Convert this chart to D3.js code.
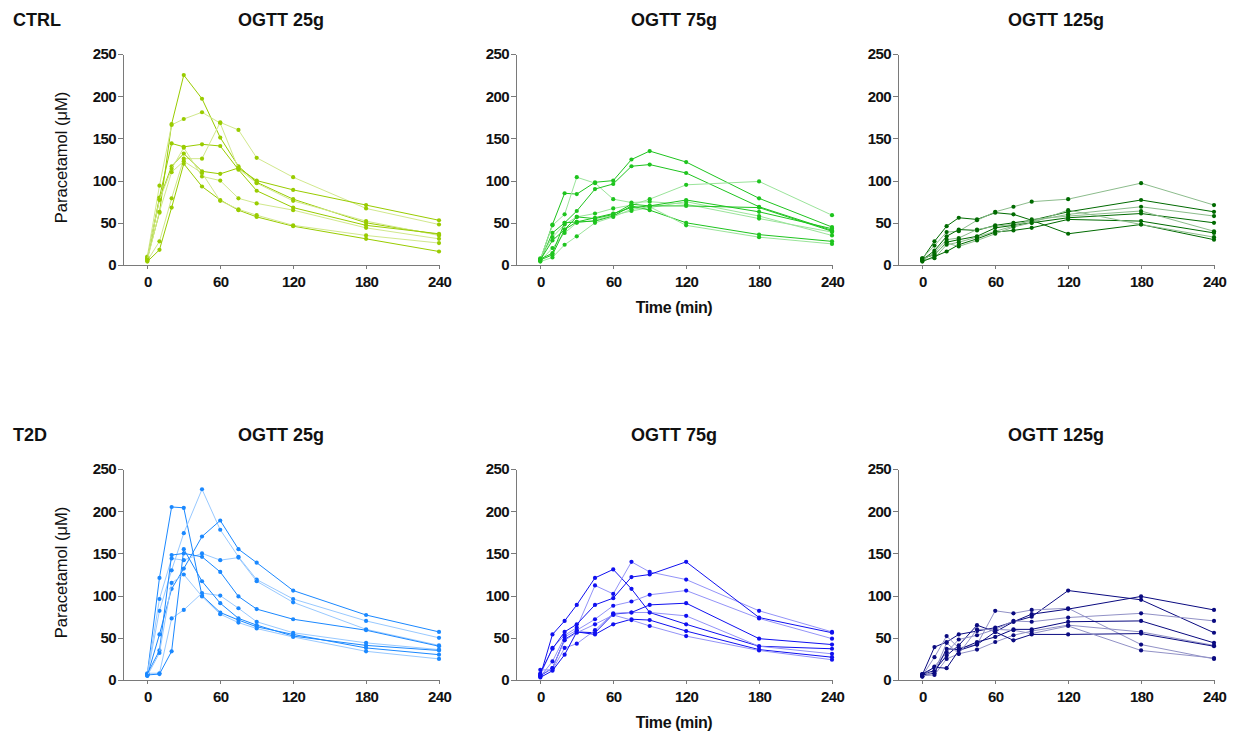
<!DOCTYPE html>
<html>
<head>
<meta charset="utf-8">
<script src="https://cdn.jsdelivr.net/npm/d3@7/dist/d3.min.js"></script>
<style>
    body { margin: 0; background: #fff; }
    text { font-family: 'Liberation Sans', Arial, sans-serif; fill: #111; }
    .tick text { font-size: 15px; font-weight: bold; letter-spacing: -0.6px; }
    .axis path.domain, .axis .tick line { stroke: #7a7a7a; stroke-width: 1; shape-rendering: crispEdges; }
    .panel-title { font-size: 18px; font-weight: bold; }
    .group-label { font-size: 18px; font-weight: bold; }
    .y-label { font-size: 16.5px; }
    .x-label { font-size: 16px; font-weight: bold; letter-spacing: -0.4px; }
</style>
</head>
<body>
<div id="ogtt-plot"></div>
<script>
// sampling times (min)
const times = [0, 10, 20, 30, 45, 60, 75, 90, 120, 180, 240];
const groups = ['CTRL', 'T2D'];
const doses = ['OGTT 25g', 'OGTT 75g', 'OGTT 125g'];
const xTicks = [0, 60, 120, 180, 240];
const yTicks = [0, 50, 100, 150, 200, 250];

// paracetamol (µM), one row per subject, values at `times`
const ctrl25 = [
    [8, 62, 167, 225, 197, 151, 117, 98, 78, 50, 36],
    [10, 94, 166, 173, 181, 168, 114, 97, 76, 52, 35],
    [6, 80, 144, 140, 143, 141, 113, 88, 68, 47, 37],
    [5, 28, 79, 126, 126, 169, 160, 127, 104, 67, 48],
    [7, 78, 117, 132, 111, 108, 115, 100, 89, 71, 53],
    [9, 77, 114, 139, 105, 100, 79, 73, 65, 44, 31],
    [4, 18, 68, 120, 93, 77, 65, 57, 46, 31, 16],
    [6, 63, 110, 123, 109, 76, 66, 59, 47, 35, 26]
];
const ctrl75 = [
    [6, 48, 85, 84, 98, 100, 125, 135, 122, 79, 45],
    [7, 47, 60, 104, 97, 78, 74, 75, 72, 55, 39],
    [5, 38, 50, 64, 90, 96, 117, 119, 109, 69, 41],
    [8, 33, 48, 57, 61, 67, 71, 78, 95, 99, 59],
    [6, 29, 42, 51, 56, 61, 68, 70, 77, 63, 43],
    [5, 20, 38, 50, 53, 59, 64, 68, 75, 58, 35],
    [7, 14, 50, 51, 52, 58, 70, 65, 50, 36, 28],
    [4, 9, 24, 34, 50, 57, 66, 69, 47, 33, 25],
    [6, 12, 42, 57, 55, 60, 72, 70, 70, 68, 40]
];
const ctrl125 = [
    [7, 28, 46, 56, 54, 62, 60, 53, 37, 48, 30],
    [8, 23, 39, 40, 53, 63, 69, 75, 78, 97, 71],
    [6, 17, 34, 42, 41, 47, 50, 53, 63, 77, 63],
    [5, 15, 30, 32, 42, 46, 48, 52, 60, 69, 58],
    [8, 12, 27, 30, 34, 44, 47, 50, 56, 61, 50],
    [6, 8, 24, 27, 33, 40, 46, 54, 58, 64, 40],
    [4, 10, 16, 24, 31, 39, 41, 44, 54, 52, 38],
    [7, 13, 26, 22, 29, 37, 45, 50, 65, 48, 33]
];
const t2d25 = [
    [7, 121, 205, 204, 100, 80, 71, 63, 54, 38, 30],
    [6, 82, 130, 174, 226, 178, 146, 119, 96, 70, 50],
    [5, 54, 108, 132, 170, 189, 155, 139, 106, 77, 57],
    [6, 96, 144, 142, 150, 142, 145, 117, 92, 60, 41],
    [7, 35, 148, 150, 146, 128, 99, 84, 72, 59, 40],
    [8, 8, 73, 83, 103, 100, 85, 69, 56, 44, 36],
    [6, 7, 34, 155, 117, 91, 73, 65, 52, 41, 35],
    [5, 32, 115, 125, 99, 78, 68, 61, 51, 34, 25]
];
const t2d75 = [
    [5, 54, 70, 89, 121, 131, 108, 80, 66, 40, 37],
    [6, 38, 53, 62, 112, 102, 140, 128, 119, 82, 57],
    [8, 37, 57, 66, 89, 97, 122, 125, 140, 74, 56],
    [4, 22, 51, 59, 72, 88, 93, 101, 106, 73, 49],
    [5, 14, 48, 57, 56, 78, 80, 89, 91, 49, 42],
    [12, 12, 38, 43, 59, 79, 80, 80, 76, 40, 31],
    [3, 11, 30, 57, 54, 66, 72, 71, 58, 36, 27],
    [6, 14, 47, 56, 66, 77, 71, 64, 52, 35, 24]
];
const t2d125 = [
    [6, 39, 45, 54, 58, 62, 69, 75, 106, 95, 56],
    [5, 27, 52, 38, 42, 82, 79, 83, 85, 42, 25],
    [7, 11, 29, 41, 65, 57, 69, 78, 84, 99, 83],
    [4, 16, 33, 48, 53, 60, 70, 69, 74, 79, 70],
    [6, 8, 37, 36, 45, 51, 60, 60, 69, 70, 44],
    [5, 6, 25, 31, 36, 45, 53, 58, 65, 57, 41],
    [7, 15, 14, 35, 42, 57, 47, 54, 54, 55, 40],
    [4, 10, 44, 31, 60, 60, 59, 55, 64, 35, 26]
];

const panelData = [[ctrl25, ctrl75, ctrl125], [t2d25, t2d75, t2d125]];
const panelColors = [['#99cc00', '#1ec41e', '#006a00'], ['#1a88ff', '#1010f0', '#0a0a80']];

function drawChart() {
    let svgWidth = 1234,
        svgHeight = 735,
        colLeft = [123, 516, 898],
        rowTop = [54, 469],
        plotWidth = 316,
        plotHeight = 211,
        svg = d3.select('#ogtt-plot').append('svg')
                .attr('width', svgWidth)
                .attr('height', svgHeight);

    let xScale = d3.scaleLinear().domain([-20, 240]).range([0, plotWidth]),
        yScale = d3.scaleLinear().domain([0, 250]).range([plotHeight, 0]);

    groups.forEach((group, r) => {
        svg.append('text')
           .attr('class', 'group-label')
           .attr('x', 13)
           .attr('y', rowTop[r] - 28)
           .text(group);

        doses.forEach((dose, c) => {
            let plot = svg.append('g')
                          .attr('transform', `translate(${colLeft[c]}, ${rowTop[r]})`);
            setUpPanel(plot, dose, r, c);
            drawSubjects(plot, panelData[r][c], panelColors[r][c]);
        });
    });

    function setUpPanel(plot, dose, r, c) {
        plot.append('text')
            .attr('class', 'panel-title')
            .attr('x', plotWidth / 2)
            .attr('y', -28)
            .attr('text-anchor', 'middle')
            .text(dose);

        let xAxis = d3.axisBottom(xScale)
                      .tickValues(xTicks)
                      .tickSize(4)
                      .tickSizeOuter(0)
                      .tickPadding(7);
        plot.append('g')
            .attr('class', 'axis')
            .attr('transform', `translate(0, ${plotHeight})`)
            .call(xAxis);

        let yAxis = d3.axisLeft(yScale)
                      .tickValues(yTicks)
                      .tickSize(5)
                      .tickSizeOuter(0)
                      .tickPadding(2);
        plot.append('g')
            .attr('class', 'axis')
            .call(yAxis);

        plot.selectAll('.axis text').attr('font-family', null).attr('font-size', null);

        if (c === 0) {
            plot.append('text')
                .attr('class', 'y-label')
                .attr('text-anchor', 'middle')
                .attr('transform', `translate(${67 - colLeft[0]}, ${plotHeight / 2 - 2}) rotate(-90)`)
                .text('Paracetamol (\u03bcM)');
        }
        if (c === 1) {
            plot.append('text')
                .attr('class', 'x-label')
                .attr('text-anchor', 'middle')
                .attr('x', xScale(110))
                .attr('y', plotHeight + 48)
                .text('Time (min)');
        }
    }

    function drawSubjects(plot, subjects, color) {
        let light = d3.interpolateRgb(color, '#ffffff')(0.55),
            line = d3.line()
                     .x((d, i) => xScale(times[i]))
                     .y(d => yScale(d));

        let subj = plot.append('g').selectAll('g')
                       .data(subjects)
                       .enter()
                       .append('g');
        subj.append('path')
            .attr('d', line)
            .attr('fill', 'none')
            .attr('stroke', (d, i) => i % 2 ? light : color)
            .attr('stroke-width', 1);
        subj.selectAll('circle')
            .data(d => d)
            .enter()
            .append('circle')
            .attr('cx', (d, i) => xScale(times[i]))
            .attr('cy', d => yScale(d))
            .attr('r', 2.1)
            .attr('fill', color);
    }
}

drawChart();
</script>
</body>
</html>
